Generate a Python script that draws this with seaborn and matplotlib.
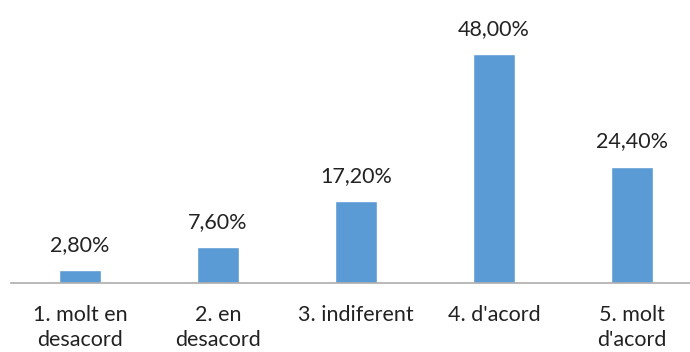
import matplotlib
matplotlib.use("Agg")
import matplotlib.pyplot as plt
import seaborn as sns
import pandas as pd

categories = ["1. molt en\ndesacord", "2. en\ndesacord", "3. indiferent", "4. d'acord", "5. molt\nd'acord"]
values = [2.8, 7.6, 17.2, 48.0, 24.4]
value_labels = ["2,80%", "7,60%", "17,20%", "48,00%", "24,40%"]

df = pd.DataFrame({"cat": categories, "pct": values})

sns.set_style("white")
plt.rcParams["font.family"] = ["Lato", "DejaVu Sans"]

fig = plt.figure(figsize=(6.9, 3.52), dpi=100)
ax = fig.add_axes([11 / 690, (352 - 283) / 352, 679 / 690, 283 / 352])

sns.barplot(data=df, x="cat", y="pct", color="#5B9BD5", width=0.31, ax=ax, saturation=1)

ax.set_xlim(-0.5, 4.42)
ax.set_ylim(0, 59.3)
for i, (v, lab) in enumerate(zip(values, value_labels)):
    ax.annotate(lab, (i, v), xytext=(0, 25), textcoords="offset pixels",
                ha="center", va="center", fontsize=15.5, color="#222222")

for s in ["top", "right", "left"]:
    ax.spines[s].set_visible(False)
ax.spines["bottom"].set_color("#ADADAD")
ax.spines["bottom"].set_linewidth(1.2)
ax.set_yticks([])
ax.set_xlabel("")
ax.set_ylabel("")
ax.tick_params(axis="x", length=0, pad=16, labelsize=15.5, labelcolor="#222222")
for t in ax.get_xticklabels():
    t.set_linespacing(1.3)

fig.savefig("out.png", dpi=100)
